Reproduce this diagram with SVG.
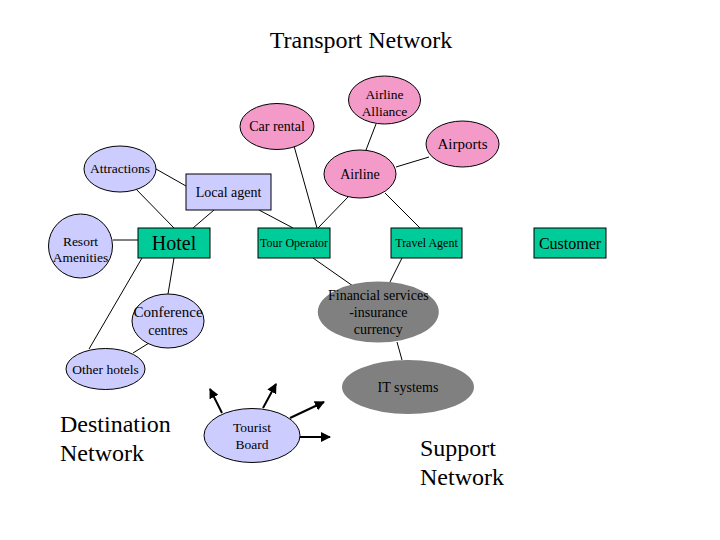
<svg xmlns="http://www.w3.org/2000/svg" width="720" height="540" viewBox="0 0 720 540">
<style>
text{font-family:"Liberation Serif","Times New Roman",serif;fill:#000;text-anchor:middle}
.pink{fill:#F49AC9;stroke:#000;stroke-width:1}
.lav{fill:#CCCCFF;stroke:#000;stroke-width:1}
.grn{fill:#00CC99;stroke:#000;stroke-width:1}
.gry{fill:#808080;stroke:none}
.ln{stroke:#000;stroke-width:1;fill:none}
.arr{stroke:#000;stroke-width:2;fill:none;marker-end:url(#ah)}
.big{font-size:24px;text-anchor:start}
</style>
<defs>
<marker id="ah" viewBox="0 0 10 10" refX="9" refY="5" markerWidth="5" markerHeight="5" orient="auto" markerUnits="strokeWidth">
<path d="M0,0 L10,5 L0,10 z" fill="#000"/>
</marker>
</defs>
<rect width="720" height="540" fill="#fff"/>
<text x="361" y="48" style="font-size:24px">Transport Network</text>

<g id="connectors">
<line class="ln" x1="376" y1="124" x2="366" y2="150"/>
<line class="ln" x1="429" y1="157" x2="396" y2="167"/>
<line class="ln" x1="294" y1="146" x2="317" y2="228"/>
<line class="ln" x1="348" y1="197" x2="318" y2="228"/>
<line class="ln" x1="385" y1="193" x2="420" y2="228"/>
<line class="ln" x1="156" y1="169" x2="186" y2="186"/>
<line class="ln" x1="134" y1="187" x2="174" y2="228"/>
<line class="ln" x1="214" y1="210" x2="193" y2="228"/>
<line class="ln" x1="259" y1="210" x2="293" y2="228"/>
<line class="ln" x1="113" y1="240" x2="138" y2="240"/>
<line class="ln" x1="142" y1="258" x2="89" y2="349"/>
<line class="ln" x1="174" y1="258" x2="168" y2="294"/>
<line class="ln" x1="149" y1="343" x2="133" y2="353"/>
<line class="ln" x1="313" y1="258" x2="353" y2="286"/>
<line class="ln" x1="402" y1="258" x2="390" y2="282"/>
<line class="ln" x1="397" y1="342" x2="402" y2="360"/>
<line class="arr" x1="222" y1="413" x2="210" y2="389"/>
<line class="arr" x1="263" y1="408" x2="276" y2="384"/>
<line class="arr" x1="290" y1="418" x2="324" y2="402"/>
<line class="arr" x1="300" y1="437" x2="330" y2="437"/>
</g>

<g id="airline-alliance"><ellipse class="pink" cx="384.5" cy="100" rx="36" ry="24"/><text x="384.5" y="99" style="font-size:13.5px">Airline</text><text x="384.5" y="116" style="font-size:13.5px">Alliance</text></g>
<g id="car-rental"><ellipse class="pink" cx="277" cy="126.5" rx="37" ry="23"/><text x="277" y="131" style="font-size:14px">Car rental</text></g>
<g id="airports"><ellipse class="pink" cx="462.5" cy="144" rx="36.5" ry="23"/><text x="462.5" y="149" style="font-size:15px">Airports</text></g>
<g id="airline"><ellipse class="pink" cx="360" cy="174" rx="36" ry="24"/><text x="360" y="179" style="font-size:14px">Airline</text></g>
<g id="attractions"><ellipse class="lav" cx="120" cy="169" rx="36" ry="23"/><text x="120" y="173" style="font-size:13.5px">Attractions</text></g>
<g id="local-agent"><rect class="lav" x="186" y="174" width="85" height="36"/><text x="228.5" y="197" style="font-size:14px">Local agent</text></g>
<g id="resort-amenities"><ellipse class="lav" cx="80.5" cy="246" rx="32" ry="32"/><text x="80.5" y="246" style="font-size:13.5px">Resort</text><text x="80.5" y="262" style="font-size:13.5px">Amenities</text></g>
<g id="hotel"><rect class="grn" x="138" y="228" width="72" height="30"/><text x="174" y="250" style="font-size:20px">Hotel</text></g>
<g id="tour-operator"><rect class="grn" x="258" y="228" width="72" height="30"/><text x="294" y="247" style="font-size:12px">Tour Operator</text></g>
<g id="travel-agent"><rect class="grn" x="391" y="228" width="71" height="30"/><text x="426.5" y="247" style="font-size:12px">Travel Agent</text></g>
<g id="customer"><rect class="grn" x="534" y="228" width="72" height="30"/><text x="570" y="248.5" style="font-size:16px">Customer</text></g>
<g id="financial-services"><ellipse class="gry" cx="378.3" cy="312" rx="60.5" ry="30.5"/><text x="378.3" y="300" style="font-size:14px">Financial services</text><text x="378.3" y="317" style="font-size:14px">-insurance</text><text x="378.3" y="334" style="font-size:14px">currency</text></g>
<g id="conference-centres"><ellipse class="lav" cx="168" cy="321" rx="36" ry="27"/><text x="168" y="317" style="font-size:15px">Conference</text><text x="168" y="335" style="font-size:14px">centres</text></g>
<g id="other-hotels"><ellipse class="lav" cx="105.5" cy="369" rx="39.5" ry="20.5"/><text x="105.5" y="374" style="font-size:13.5px">Other hotels</text></g>
<g id="it-systems"><ellipse class="gry" cx="408" cy="387" rx="66" ry="27"/><text x="408" y="392" style="font-size:14px">IT systems</text></g>
<g id="tourist-board"><ellipse class="lav" cx="252" cy="435.5" rx="48" ry="27"/><text x="252" y="432" style="font-size:13.5px">Tourist</text><text x="252" y="449" style="font-size:13.5px">Board</text></g>

<text class="big" x="60" y="432">Destination</text>
<text class="big" x="60" y="461">Network</text>
<text class="big" x="420" y="456">Support</text>
<text class="big" x="420" y="485">Network</text>
</svg>
